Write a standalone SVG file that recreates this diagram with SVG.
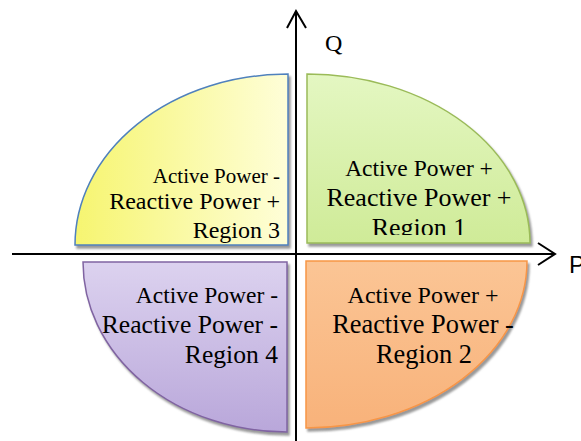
<svg xmlns="http://www.w3.org/2000/svg" width="581" height="441" viewBox="0 0 581 441">
<style>
  .t { font-family: "Liberation Serif", "Times New Roman", serif; fill: #000; }
  .axis { stroke: #000; stroke-width: 2; fill: none; }
</style>
<defs>
  <filter id="sh" x="-10%" y="-10%" width="125%" height="125%">
    <feDropShadow dx="2" dy="3" stdDeviation="1.2" flood-color="#777" flood-opacity="0.75"/>
  </filter>
  <linearGradient id="gY" x1="0" y1="0" x2="1" y2="0">
    <stop offset="0" stop-color="#f6f570"/>
    <stop offset="1" stop-color="#fefed8"/>
  </linearGradient>
  <linearGradient id="gG" x1="0" y1="0" x2="0" y2="1">
    <stop offset="0" stop-color="#e4f7c2"/>
    <stop offset="1" stop-color="#cfeb98"/>
  </linearGradient>
  <linearGradient id="gO" x1="0" y1="0" x2="0" y2="1">
    <stop offset="0" stop-color="#fbc595"/>
    <stop offset="1" stop-color="#f8b27a"/>
  </linearGradient>
  <linearGradient id="gP" x1="0" y1="0" x2="0" y2="1">
    <stop offset="0" stop-color="#dcd2ef"/>
    <stop offset="1" stop-color="#b9a7da"/>
  </linearGradient>
  <clipPath id="c1"><rect x="300" y="60" width="240" height="175"/></clipPath>
</defs>

<g id="region3">
  <path d="M288,74 L288,245 L75,245 A213,171 0 0 1 288,74 Z" fill="url(#gY)" stroke="#4f81bd" stroke-width="1.5" filter="url(#sh)"/>
  <text class="t" text-anchor="end" x="280" y="183" font-size="21">Active Power -</text>
  <text class="t" text-anchor="end" x="280" y="209" font-size="24">Reactive Power +</text>
  <text class="t" text-anchor="end" x="280" y="238" font-size="24">Region 3</text>
</g>

<g id="region1">
  <path d="M307,74 A223,169 0 0 1 530,243 L307,243 Z" fill="url(#gG)" stroke="#9bbb59" stroke-width="1.5" filter="url(#sh)"/>
  <g clip-path="url(#c1)">
    <text class="t" text-anchor="middle" x="419" y="176" font-size="23.5">Active Power +</text>
    <text class="t" text-anchor="middle" x="419" y="206" font-size="26">Reactive Power +</text>
    <text class="t" text-anchor="middle" x="419" y="236" font-size="26">Region 1</text>
  </g>
</g>

<g id="region4">
  <path d="M83,262 L287,262 L287,432 A204,170 0 0 1 83,262 Z" fill="url(#gP)" stroke="#8064a2" stroke-width="1.5" filter="url(#sh)"/>
  <text class="t" text-anchor="end" x="278" y="303" font-size="23.5">Active Power -</text>
  <text class="t" text-anchor="end" x="278" y="333" font-size="25.6">Reactive Power -</text>
  <text class="t" text-anchor="end" x="278" y="363" font-size="25.6">Region 4</text>
</g>

<g id="region2">
  <path d="M306,261 L527,261 A221,167 0 0 1 306,428 Z" fill="url(#gO)" stroke="#f79646" stroke-width="1.5" filter="url(#sh)"/>
  <text class="t" text-anchor="middle" x="423" y="303" font-size="24">Active Power +</text>
  <text class="t" text-anchor="middle" x="423" y="333" font-size="26.4">Reactive Power -</text>
  <text class="t" text-anchor="middle" x="424" y="363" font-size="26.4">Region 2</text>
</g>

<g id="connectors">
  <line class="axis" x1="296" y1="441" x2="296" y2="11"/>
  <polyline class="axis" points="287,28 296,11 306,28"/>
  <line class="axis" x1="12" y1="254" x2="555" y2="254"/>
  <polyline class="axis" points="538,243 555,254 538,265"/>
</g>

<g id="labels">
  <text class="t" x="325" y="51" font-size="24">Q</text>
  <text x="569" y="273" font-size="24" font-family="'Liberation Sans', Arial, sans-serif">P</text>
</g>
</svg>
